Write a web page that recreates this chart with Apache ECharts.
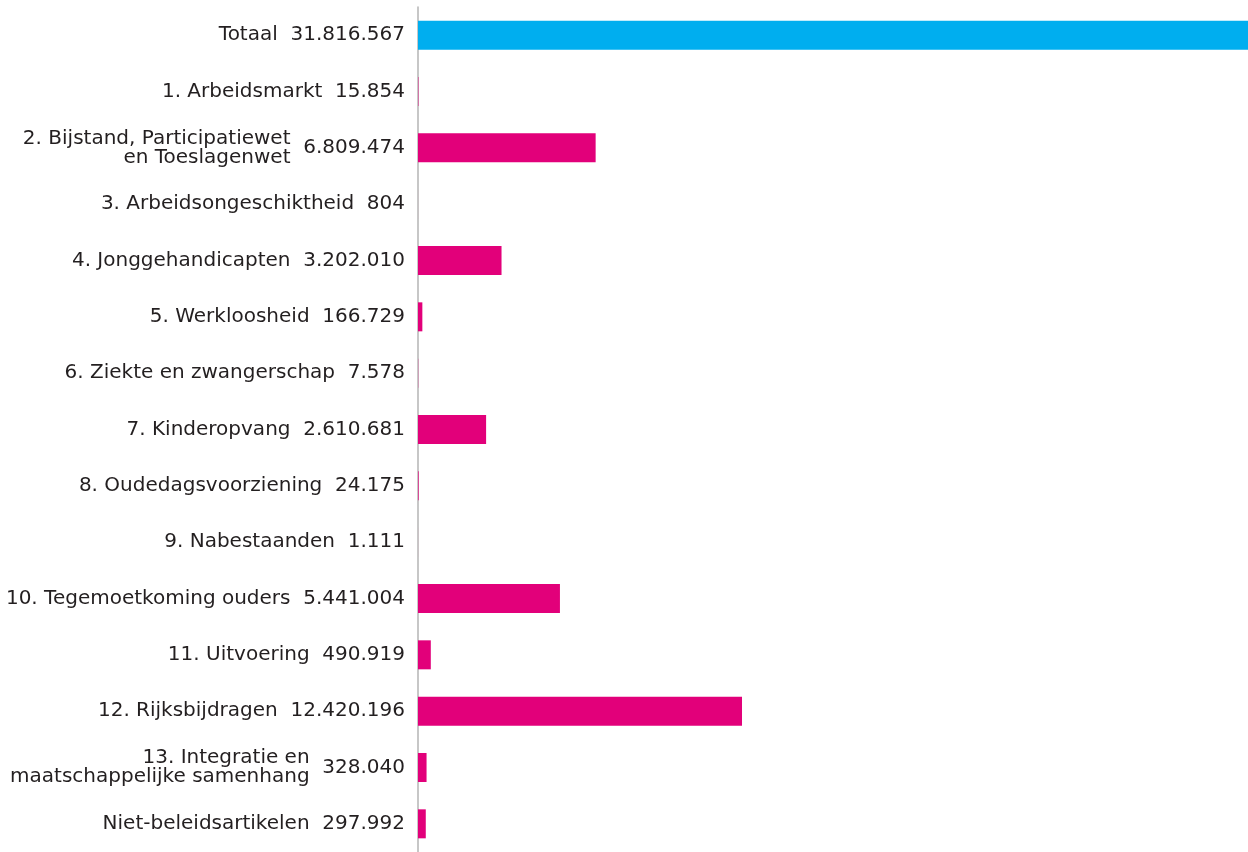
<!DOCTYPE html>
<html>
<head>
<meta charset="utf-8">
<script src="https://cdn.jsdelivr.net/npm/echarts@6/dist/echarts.min.js"></script>
<style>
html,body{margin:0;padding:0;background:#fff;}
#c{width:1248px;height:852px;}
</style>
</head>
<body>
<div id="c"></div>
<script>
const categories = [
  "Totaal",
  "1. Arbeidsmarkt",
  "2. Bijstand, Participatiewet\nen Toeslagenwet",
  "3. Arbeidsongeschiktheid",
  "4. Jonggehandicapten",
  "5. Werkloosheid",
  "6. Ziekte en zwangerschap",
  "7. Kinderopvang",
  "8. Oudedagsvoorziening",
  "9. Nabestaanden",
  "10. Tegemoetkoming ouders",
  "11. Uitvoering",
  "12. Rijksbijdragen",
  "13. Integratie en\nmaatschappelijke samenhang",
  "Niet-beleidsartikelen"
];
const values = [31816567, 15854, 6809474, 804, 3202010, 166729, 7578, 2610681, 24175, 1111, 5441004, 490919, 12420196, 328040, 297992];

function fmt(v){ return String(v).replace(/\B(?=(\d{3})+(?!\d))/g, '.'); }

const chart = echarts.init(document.getElementById('c'));
const FONT = '"DejaVu Sans", sans-serif';
const FS = 20, LH = 19, TXT = '#231f20';
chart.setOption({
  animation:false,
  grid:{left:418, right:0, top:7, bottom:-5, containLabel:false},
  xAxis:{type:'value', min:0, max:Math.max(...values), show:false},
  yAxis:{
    type:'category', inverse:true, data:categories,
    axisLine:{show:true, lineStyle:{color:'#b5b5b5', width:1.5}},
    axisTick:{show:false},
    axisLabel:{
      margin:13, fontFamily:FONT, fontSize:FS, color:TXT, lineHeight:LH,
      formatter:function(name, idx){
        const sp = '  ' + fmt(values[idx]);
        return name.split('\n').map(l => '{n|' + l + '}{h|' + sp + '}').join('\n');
      },
      rich:{
        n:{fontFamily:FONT, fontSize:FS, color:TXT, lineHeight:LH},
        h:{fontFamily:FONT, fontSize:FS, color:'transparent', lineHeight:LH}
      }
    }
  },
  series:[{
    type:'bar', barWidth:29,
    data:values.map((v,i)=>({value:v, itemStyle:{color: i===0 ? '#00aeef' : '#e2007a'}})),
    label:{show:true, position:'left', distance:13, fontFamily:FONT, fontSize:FS, color:TXT,
      formatter:p=>fmt(p.value)}
  }]
});
</script>
</body>
</html>
